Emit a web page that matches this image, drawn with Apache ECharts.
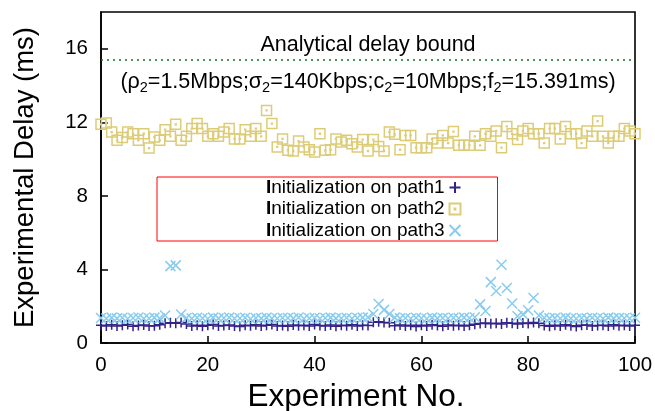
<!DOCTYPE html>
<html>
<head>
<meta charset="utf-8">
<script src="https://cdn.jsdelivr.net/npm/echarts@6/dist/echarts.min.js"></script>
<style>
  html, body { margin: 0; padding: 0; background: #ffffff; }
  #chart { width: 655px; height: 411px; }
</style>
</head>
<body>
<div id="chart"></div>
<script>
// Measured delay per experiment, one array per initialization path (ms)
const seriesNames = ['Initialization on path1', 'Initialization on path2', 'Initialization on path3'];

const path1Delay = [
  0.97, 0.93, 0.99, 0.92, 0.96, 1.00, 0.91, 0.95, 0.98, 0.92,
  0.94, 0.99, 1.07, 1.10, 1.08, 1.12, 1.04, 0.93, 0.97, 0.91,
  0.96, 1.00, 0.92, 0.95, 0.98, 0.93, 0.90, 0.97, 0.94, 0.99,
  0.92, 0.96, 1.01, 0.93, 0.95, 0.91, 0.98, 0.94, 0.97, 0.92,
  1.00, 0.95, 0.93, 0.98, 0.91, 0.96, 0.94, 0.99, 0.92, 0.97,
  0.95, 1.13, 1.16, 1.12, 1.10, 0.94, 0.98, 0.92, 0.96, 0.90,
  0.97, 0.93, 0.99, 0.95, 0.91, 0.98, 0.94, 0.96, 0.92, 0.97,
  1.02, 1.06, 1.09, 1.05, 1.08, 1.03, 1.10, 1.07, 1.04, 1.09,
  1.06, 1.11, 1.08, 0.95, 0.91, 0.97, 0.93, 0.99, 0.94, 0.90,
  0.96, 0.98, 0.92, 0.95, 0.97, 0.93, 0.99, 0.94, 0.96, 0.92,
  0.97
];

const path2Delay = [
  11.89, 11.96, 11.47, 11.02, 11.17, 11.47, 11.38, 11.02, 11.38, 10.60,
  11.20, 11.02, 11.60, 11.24, 11.89, 11.02, 11.24, 11.66, 11.93, 11.66,
  11.24, 11.38, 11.24, 11.47, 11.66, 11.10, 11.10, 11.60, 11.24, 11.66,
  11.24, 12.65, 11.93, 10.66, 11.10, 10.48, 10.44, 10.98, 10.66, 10.51,
  10.39, 11.38, 10.48, 10.51, 11.10, 10.93, 11.02, 10.84, 10.66, 11.06,
  10.44, 11.06, 10.69, 10.44, 11.47, 11.35, 10.51, 11.29, 11.29, 10.62,
  10.62, 10.62, 11.10, 10.87, 11.29, 10.87, 11.50, 10.75, 10.75, 10.75,
  11.24, 10.75, 11.38, 11.24, 11.53, 10.62, 11.78, 11.38, 11.06, 11.53,
  11.66, 11.38, 11.38, 10.87, 11.66, 11.66, 11.10, 11.78, 11.38, 11.38,
  10.87, 11.53, 11.24, 12.07, 11.24, 10.87, 11.24, 11.24, 11.66, 11.53,
  11.38
];

const path3Delay = [
  1.36, 1.33, 1.38, 1.34, 1.37, 1.32, 1.36, 1.39, 1.33, 1.35,
  1.38, 1.34, 1.50, 4.18, 4.22, 1.55, 1.36, 1.33, 1.37, 1.35,
  1.32, 1.38, 1.34, 1.36, 1.39, 1.33, 1.35, 1.37, 1.32, 1.36,
  1.34, 1.38, 1.35, 1.33, 1.37, 1.36, 1.34, 1.39, 1.32, 1.35,
  1.37, 1.33, 1.36, 1.38, 1.34, 1.35, 1.37, 1.33, 1.36, 1.38,
  1.40, 1.58, 2.12, 1.80, 1.58, 1.38, 1.34, 1.36, 1.33, 1.37,
  1.35, 1.32, 1.38, 1.34, 1.36, 1.33, 1.37, 1.35, 1.38, 1.36,
  1.40, 2.10, 1.74, 3.31, 2.83, 4.26, 2.99, 2.15, 1.45, 1.56,
  1.78, 2.45, 1.50, 1.37, 1.34, 1.36, 1.33, 1.38, 1.35, 1.32,
  1.36, 1.34, 1.37, 1.35, 1.33, 1.38, 1.34, 1.36, 1.35, 1.33,
  1.37
];

// Analytical delay bound f2 (ms)
const analyticalBound = 15.391;

const FONT = '"Liberation Sans", Arial, Helvetica, sans-serif';
const COLORS = { path1: '#332288', path2: '#DDCC77', path3: '#88CCEE', bound: '#117733' };

// Experiment numbers run 0..N-1 alongside each measurement
function toPairs(values) {
  return values.map((v, i) => [i, v]);
}

const SYMBOL_PLUS = 'path://M5,0L5,10M0,5L10,5';
const SYMBOL_CROSS = 'path://M0,0L10,10M10,0L0,10';
const SYMBOL_SQUARE_DOT = 'path://M0,0L10,0L10,10L0,10ZM4.6,4.6L5.4,4.6L5.4,5.4L4.6,5.4Z';

function pointSeries(name, values, symbol, color, size, z) {
  return {
    name: name,
    type: 'scatter',
    data: toPairs(values),
    symbol: symbol,
    symbolSize: size,
    z: z,
    itemStyle: { color: 'rgba(0,0,0,0)', borderColor: color, borderWidth: 1.5, opacity: 1 },
    emphasis: { disabled: true }
  };
}

const chart = echarts.init(document.getElementById('chart'), null, { renderer: 'canvas' });

const option = {
  animation: false,
  backgroundColor: '#ffffff',
  textStyle: { fontFamily: FONT },
  grid: {
    left: 101, right: 20, top: 12, bottom: 68,
    outerBoundsMode: 'none',
    containLabel: false,
    show: true, borderColor: '#000000', borderWidth: 1.6, backgroundColor: 'transparent'
  },
  xAxis: {
    type: 'value',
    min: 0, max: 100, interval: 20,
    name: 'Experiment No.',
    nameLocation: 'middle',
    nameGap: 27,
    nameTextStyle: { fontSize: 31.5, color: '#000', fontFamily: FONT, padding: [0, 24, 0, 0] },
    axisLine: { show: true, lineStyle: { color: '#000', width: 1.6 } },
    axisTick: { show: true, inside: true, length: 7, lineStyle: { color: '#000', width: 1.5 } },
    axisLabel: { color: '#000', fontSize: 20.5, margin: 12, fontFamily: FONT },
    splitLine: { show: false }
  },
  yAxis: {
    type: 'value',
    min: 0, max: 18, interval: 4,
    name: 'Experimental Delay (ms)',
    nameLocation: 'middle',
    nameGap: 62,
    nameTextStyle: { fontSize: 27.5, color: '#000', fontFamily: FONT },
    axisLine: { show: true, lineStyle: { color: '#000', width: 1.6 } },
    axisTick: { show: true, inside: true, length: 7, lineStyle: { color: '#000', width: 1.5 } },
    axisLabel: { color: '#000', fontSize: 20.5, margin: 13, fontFamily: FONT, showMaxLabel: false },
    splitLine: { show: false }
  },
  legend: {
    data: seriesNames,
    orient: 'vertical',
    left: 157, top: 177,
    align: 'right',
    padding: [1, 36, 1, 109],
    itemWidth: 11, itemHeight: 11,
    itemGap: 2.5,
    borderColor: '#ff0000',
    borderWidth: 1,
    backgroundColor: '#ffffff',
    selectedMode: false,
    formatter: function (name) {
      return '{b|' + name.charAt(0) + '}{n|' + name.slice(1) + '}';
    },
    textStyle: {
      color: '#000', fontSize: 19, fontFamily: FONT, lineHeight: 19,
      rich: {
        b: { fontWeight: 'bold', fontSize: 19, fontFamily: FONT, color: '#000' },
        n: { fontSize: 19, fontFamily: FONT, color: '#000' }
      }
    }
  },
  graphic: [{
    type: 'text',
    x: 368, y: 82,
    style: {
      text: '(ρ{s|2}=1.5Mbps;σ{s|2}=140Kbps;c{s|2}=10Mbps;f{s|2}=15.391ms)',
      fontSize: 21.5,
      fontFamily: FONT,
      fill: '#000',
      align: 'center',
      verticalAlign: 'middle',
      lineHeight: 27,
      rich: {
        s: { fontSize: 14.5, fontFamily: FONT, fill: '#000', lineHeight: 13, verticalAlign: 'bottom' }
      }
    }
  }],
  series: [
    Object.assign(pointSeries(seriesNames[0], path1Delay, SYMBOL_PLUS, COLORS.path1, 10, 2), {
      markLine: {
        silent: true,
        symbol: ['none', 'none'],
        lineStyle: { color: COLORS.bound, type: [2, 4], width: 1.5 },
        label: {
          show: true,
          position: 'middle',
          formatter: 'Analytical delay bound',
          color: '#000',
          fontSize: 21.5,
          fontFamily: FONT,
          distance: 4
        },
        data: [{ yAxis: analyticalBound }]
      }
    }),
    pointSeries(seriesNames[1], path2Delay, SYMBOL_SQUARE_DOT, COLORS.path2, 10, 3),
    pointSeries(seriesNames[2], path3Delay, SYMBOL_CROSS, COLORS.path3, 10, 4)
  ]
};

chart.setOption(option);
</script>
</body>
</html>
